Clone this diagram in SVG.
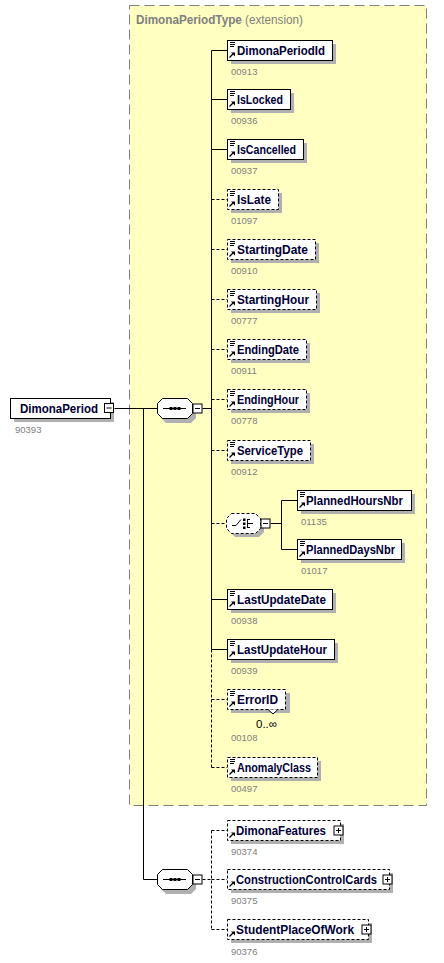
<svg xmlns="http://www.w3.org/2000/svg" width="444" height="963" viewBox="0 0 444 963">
<style>
.sh{fill:#b0b0b0}
.bx{fill:#fff;stroke:#000;stroke-width:1}
.bxd{fill:#fff;stroke:#000;stroke-width:1;stroke-dasharray:3,2}
.ln{fill:none;stroke:#000;stroke-width:1}
.dl{fill:none;stroke:#000;stroke-width:1;stroke-dasharray:3,2}
.nm{font-family:"Liberation Sans",Arial,sans-serif;font-weight:bold;font-size:12.2px;fill:#000036}
.cd{font-family:"Liberation Sans",Arial,sans-serif;font-size:9.5px;fill:#808080}
.ttl{font-family:"Liberation Sans",Arial,sans-serif;font-size:12px;fill:#808080}
.mul{font-family:"Liberation Sans",Arial,sans-serif;font-size:11.5px;fill:#000}
</style>
<defs>
<g id="ic"><path d="M3 2.5h5M3 4.5h5M3 6.5h4" stroke="#000" stroke-width="1" fill="none"/></g>
<g id="ar"><path d="M2.5 17.5L6 14" stroke="#000" stroke-width="1.3" fill="none"/><polygon points="4,12.5 8,12.5 8,16.5" fill="#000"/></g>
<g id="mi"><rect x="0.5" y="0.5" width="9" height="9" fill="#fff" stroke="#000"/><path d="M2.5 5h5" stroke="#000"/></g>
<g id="pl"><rect x="0.5" y="0.5" width="9" height="9" fill="#fff" stroke="#000"/><path d="M2.5 5h5M5 2.5v5" stroke="#000"/></g>
</defs>

<g id="typeBox">
<rect x="129.5" y="5.5" width="297" height="800" fill="#ffffc2" stroke="#808080" stroke-width="1" stroke-dasharray="10,5"/>
<text class="ttl" x="136" y="24" textLength="167" lengthAdjust="spacingAndGlyphs"><tspan font-weight="bold">DimonaPeriodType</tspan> (extension)</text>
</g>

<g id="connectors">
<path class="ln" d="M114.5 408.5H157M143.5 408.5V879.5H157"/>
<path class="ln" d="M202.5 408.5H211.5M211.5 50.5V649.5"/>
<path class="dl" d="M211.5 649.5V767.5"/>
<path class="ln" d="M211.5 50.5H227M211.5 99.5H227M211.5 149.5H227M211.5 599.5H227M211.5 649.5H227"/>
<path class="dl" d="M211.5 199.5H227M211.5 249.5H227M211.5 299.5H227M211.5 349.5H227M211.5 399.5H227M211.5 450.5H227M211.5 523.5H226M211.5 699.5H227M211.5 767.5H227"/>
<path class="ln" d="M270.5 523.5H281.5M297 500.5H281.5V549.5H297"/>
<path class="dl" d="M202.5 879.5H211.5M211.5 830.5V929.5M211.5 830.5H227M211.5 879.5H227M211.5 929.5H227"/>
</g>

<g id="DimonaPeriod">
<rect class="sh" x="14" y="402" width="100" height="20"/>
<rect class="bx" x="10.5" y="398.5" width="100" height="20"/>
<text class="nm" x="20" y="413" textLength="78" lengthAdjust="spacingAndGlyphs">DimonaPeriod</text>
<use href="#mi" x="104" y="403"/>
<text class="cd" x="15" y="433">90393</text>
</g>

<g id="seq1">
<path class="sh" d="M166 402H191L196 407V418L191 423H166L161 418V407Z"/>
<path class="bx" d="M162.5 398.5H187.5L192.5 403.5V413.5L187.5 418.5H162.5L157.5 413.5V403.5Z"/>
<path class="ln" d="M163 408.5H186"/>
<rect x="169.5" y="407" width="3" height="3"/><rect x="173.5" y="407" width="3" height="3"/><rect x="177.5" y="407" width="3" height="3"/>
<use href="#mi" x="192.5" y="403.5"/>
</g>

<g id="seq2">
<path class="sh" d="M166 873H191L196 878V889L191 894H166L161 889V878Z"/>
<path class="bx" d="M162.5 869.5H187.5L192.5 874.5V884.5L187.5 889.5H162.5L157.5 884.5V874.5Z"/>
<path class="ln" d="M163 879.5H186"/>
<rect x="169.5" y="878" width="3" height="3"/><rect x="173.5" y="878" width="3" height="3"/><rect x="177.5" y="878" width="3" height="3"/>
<use href="#mi" x="192.5" y="874.5"/>
</g>

<g id="choice">
<path class="sh" d="M235 517H259L264 522V532L259 537H235L230 532V522Z"/>
<path class="bxd" d="M231.5 513.5H255.5L260.5 518.5V528.5L255.5 533.5H231.5L226.5 528.5V518.5Z"/>
<path class="ln" d="M232 525.5H236L241 519.5M247.5 519V528M247.5 519.5H250M247.5 523.5H253M247.5 527.5H250"/>
<rect x="243" y="518.5" width="2.5" height="2.5"/><rect x="243" y="522.5" width="2.5" height="2.5"/><rect x="243" y="526.5" width="2.5" height="2.5"/>
<use href="#mi" x="260.5" y="518.5"/>
</g>

<g id="DimonaPeriodId">
<rect class="sh" x="231" y="44" width="105" height="20"/>
<rect class="bx" x="227.5" y="40.5" width="105" height="20"/>
<use href="#ic" x="227" y="40"/><use href="#ar" x="227" y="40"/>
<text class="nm" x="237" y="54.5" textLength="88" lengthAdjust="spacingAndGlyphs">DimonaPeriodId</text>
<text class="cd" x="231" y="75">00913</text>
</g>

<g id="IsLocked">
<rect class="sh" x="231" y="93" width="63" height="20"/>
<rect class="bx" x="227.5" y="89.5" width="63" height="20"/>
<use href="#ic" x="227" y="89"/><use href="#ar" x="227" y="89"/>
<text class="nm" x="237" y="103.5" textLength="46" lengthAdjust="spacingAndGlyphs">IsLocked</text>
<text class="cd" x="231" y="124">00936</text>
</g>

<g id="IsCancelled">
<rect class="sh" x="231" y="143" width="76" height="20"/>
<rect class="bx" x="227.5" y="139.5" width="76" height="20"/>
<use href="#ic" x="227" y="139"/><use href="#ar" x="227" y="139"/>
<text class="nm" x="237" y="153.5" textLength="59" lengthAdjust="spacingAndGlyphs">IsCancelled</text>
<text class="cd" x="231" y="174">00937</text>
</g>

<g id="IsLate">
<rect class="sh" x="231" y="193" width="51" height="20"/>
<rect class="bxd" x="227.5" y="189.5" width="51" height="20"/>
<use href="#ic" x="227" y="189"/><use href="#ar" x="227" y="189"/>
<text class="nm" x="237" y="203.5" textLength="34" lengthAdjust="spacingAndGlyphs">IsLate</text>
<text class="cd" x="231" y="224">01097</text>
</g>

<g id="StartingDate">
<rect class="sh" x="231" y="243" width="88" height="20"/>
<rect class="bxd" x="227.5" y="239.5" width="88" height="20"/>
<use href="#ic" x="227" y="239"/><use href="#ar" x="227" y="239"/>
<text class="nm" x="237" y="253.5" textLength="71" lengthAdjust="spacingAndGlyphs">StartingDate</text>
<text class="cd" x="231" y="274">00910</text>
</g>

<g id="StartingHour">
<rect class="sh" x="231" y="293" width="89" height="20"/>
<rect class="bxd" x="227.5" y="289.5" width="89" height="20"/>
<use href="#ic" x="227" y="289"/><use href="#ar" x="227" y="289"/>
<text class="nm" x="237" y="303.5" textLength="72" lengthAdjust="spacingAndGlyphs">StartingHour</text>
<text class="cd" x="231" y="324">00777</text>
</g>

<g id="EndingDate">
<rect class="sh" x="231" y="343" width="79" height="20"/>
<rect class="bxd" x="227.5" y="339.5" width="79" height="20"/>
<use href="#ic" x="227" y="339"/><use href="#ar" x="227" y="339"/>
<text class="nm" x="237" y="353.5" textLength="62" lengthAdjust="spacingAndGlyphs">EndingDate</text>
<text class="cd" x="231" y="374">00911</text>
</g>

<g id="EndingHour">
<rect class="sh" x="231" y="393" width="79" height="20"/>
<rect class="bxd" x="227.5" y="389.5" width="79" height="20"/>
<use href="#ic" x="227" y="389"/><use href="#ar" x="227" y="389"/>
<text class="nm" x="237" y="403.5" textLength="62" lengthAdjust="spacingAndGlyphs">EndingHour</text>
<text class="cd" x="231" y="424">00778</text>
</g>

<g id="ServiceType">
<rect class="sh" x="231" y="444" width="83" height="20"/>
<rect class="bxd" x="227.5" y="440.5" width="83" height="20"/>
<use href="#ic" x="227" y="440"/><use href="#ar" x="227" y="440"/>
<text class="nm" x="237" y="454.5" textLength="66" lengthAdjust="spacingAndGlyphs">ServiceType</text>
<text class="cd" x="231" y="475">00912</text>
</g>

<g id="PlannedHoursNbr">
<rect class="sh" x="301" y="494" width="114" height="20"/>
<rect class="bx" x="297.5" y="490.5" width="114" height="20"/>
<use href="#ic" x="297" y="490"/><use href="#ar" x="297" y="490"/>
<text class="nm" x="306" y="504.5" textLength="97" lengthAdjust="spacingAndGlyphs">PlannedHoursNbr</text>
<text class="cd" x="301" y="525">01135</text>
</g>

<g id="PlannedDaysNbr">
<rect class="sh" x="301" y="543" width="104" height="20"/>
<rect class="bx" x="297.5" y="539.5" width="104" height="20"/>
<use href="#ic" x="297" y="539"/><use href="#ar" x="297" y="539"/>
<text class="nm" x="306" y="553.5" textLength="89" lengthAdjust="spacingAndGlyphs">PlannedDaysNbr</text>
<text class="cd" x="301" y="574">01017</text>
</g>

<g id="LastUpdateDate">
<rect class="sh" x="231" y="593" width="105" height="20"/>
<rect class="bx" x="227.5" y="589.5" width="105" height="20"/>
<use href="#ic" x="227" y="589"/><use href="#ar" x="227" y="589"/>
<text class="nm" x="237" y="603.5" textLength="89" lengthAdjust="spacingAndGlyphs">LastUpdateDate</text>
<text class="cd" x="231" y="624">00938</text>
</g>

<g id="LastUpdateHour">
<rect class="sh" x="231" y="643" width="107" height="20"/>
<rect class="bx" x="227.5" y="639.5" width="107" height="20"/>
<use href="#ic" x="227" y="639"/><use href="#ar" x="227" y="639"/>
<text class="nm" x="237" y="653.5" textLength="90" lengthAdjust="spacingAndGlyphs">LastUpdateHour</text>
<text class="cd" x="231" y="674">00939</text>
</g>

<g id="ErrorID">
<rect class="sh" x="231" y="693" width="59" height="20"/>
<rect class="bxd" x="227.5" y="689.5" width="58" height="20"/>
<use href="#ic" x="227" y="689"/><use href="#ar" x="227" y="689"/>
<path d="M268 709.5L273 714L278 709.5" fill="#fff" stroke="#000"/>
<text class="nm" x="237" y="703.5" textLength="41" lengthAdjust="spacingAndGlyphs">ErrorID</text>
<text class="mul" x="256" y="728">0..∞</text>
<text class="cd" x="231" y="741">00108</text>
</g>

<g id="AnomalyClass">
<rect class="sh" x="231" y="761" width="90" height="20"/>
<rect class="bxd" x="227.5" y="757.5" width="90" height="20"/>
<use href="#ic" x="227" y="757"/><use href="#ar" x="227" y="757"/>
<text class="nm" x="237" y="771.5" textLength="74" lengthAdjust="spacingAndGlyphs">AnomalyClass</text>
<text class="cd" x="231" y="792">00497</text>
</g>

<g id="DimonaFeatures">
<rect class="sh" x="231" y="824" width="113" height="20"/>
<rect class="bxd" x="227.5" y="820.5" width="113" height="20"/>
<use href="#ar" x="227" y="820"/>
<text class="nm" x="236" y="834.5" textLength="90" lengthAdjust="spacingAndGlyphs">DimonaFeatures</text>
<use href="#pl" x="333.5" y="825.5"/>
<text class="cd" x="231" y="855">90374</text>
</g>

<g id="ConstructionControlCards">
<rect class="sh" x="231" y="873" width="162" height="20"/>
<rect class="bxd" x="227.5" y="869.5" width="162" height="20"/>
<use href="#ar" x="227" y="869"/>
<text class="nm" x="236" y="883.5" textLength="141" lengthAdjust="spacingAndGlyphs">ConstructionControlCards</text>
<use href="#pl" x="382.5" y="874.5"/>
<text class="cd" x="231" y="904">90375</text>
</g>

<g id="StudentPlaceOfWork">
<rect class="sh" x="231" y="923" width="141" height="20"/>
<rect class="bxd" x="227.5" y="919.5" width="141" height="20"/>
<use href="#ar" x="227" y="919"/>
<text class="nm" x="236" y="933.5" textLength="118" lengthAdjust="spacingAndGlyphs">StudentPlaceOfWork</text>
<use href="#pl" x="361.5" y="924.5"/>
<text class="cd" x="231" y="955">90376</text>
</g>
</svg>
